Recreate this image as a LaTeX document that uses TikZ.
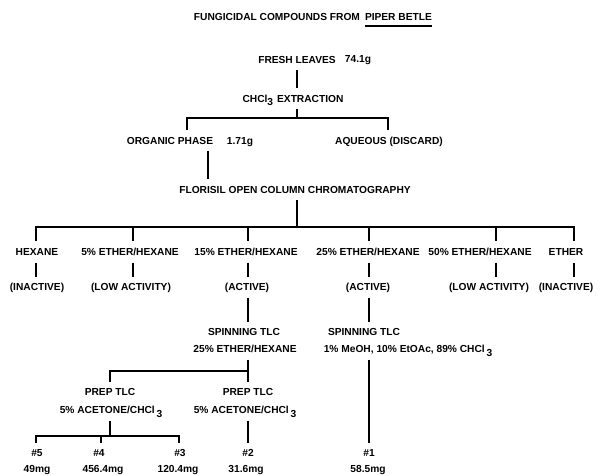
\documentclass[tikz,border=0pt]{standalone}
\usepackage{fontspec}
\setmainfont{Liberation Sans}
\begin{document}
\begin{tikzpicture}[x=1pt,y=-1pt,
  lbl/.style={font=\fontsize{10.2}{12}\selectfont\bfseries, inner sep=0pt, outer xsep=0pt, outer ysep=7pt, text height=7pt, text depth=0pt},
  ln/.style={line width=2.6pt, line join=miter}]
\useasboundingbox[fill=white] (0,0) rectangle (603,476);
% title
\node[lbl, anchor=east] (t1) at (360,17) {FUNGICIDAL COMPOUNDS FROM};
\node[lbl, anchor=west] (t2) at (365,17) {PIPER BETLE};
\draw[line width=1.8pt] ([yshift=-5.5pt]t2.base west) -- ([yshift=-5.5pt]t2.base east);
% top part
\node[lbl] (fresh) at (297,60) {FRESH LEAVES};
\node[lbl] (w1) at (358,59) {74.1g};
\node[lbl] (extr) at (293,99) {CHCl\raisebox{-3.5pt}{3}\hspace{4pt}EXTRACTION};
\coordinate (j1) at (297,118);
\coordinate (oL) at (187,118);
\coordinate (aR) at (388,118);
\node[lbl] (org) at (170,141) {ORGANIC PHASE};
\node[lbl] (w2) at (240,141) {1.71g};
\node[lbl] (aq) at (389,141) {AQUEOUS (DISCARD)};
\coordinate (oD) at (208,150);
\node[lbl] (flor) at (295,190) {FLORISIL OPEN COLUMN CHROMATOGRAPHY};
\coordinate (j2) at (297,227);
\draw[ln] (fresh.south) -- (fresh.south |- extr.north);
\draw[ln] (extr.south -| j1) -- (j1);
\draw[ln] (oL |- org.north) -- (oL) -- (aR) -- (aR |- aq.north);
\draw[ln] (org.south -| oD) -- (oD |- flor.north);
\draw[ln] (flor.south -| j2) -- (j2);
% fractions
\coordinate (b1) at (36,227);
\coordinate (b2) at (133,227);
\coordinate (b3) at (248,227);
\coordinate (b4) at (369,227);
\coordinate (b5) at (496,227);
\coordinate (b6) at (574,227);
\node[lbl] (hex) at (37,252) {HEXANE};
\node[lbl] (e5) at (130,252) {5\% ETHER/HEXANE};
\node[lbl] (e15) at (246,252) {15\% ETHER/HEXANE};
\node[lbl] (e25) at (368,252) {25\% ETHER/HEXANE};
\node[lbl] (e50) at (480,252) {50\% ETHER/HEXANE};
\node[lbl] (eth) at (566,252) {ETHER};
\node[lbl] (r1) at (37,287) {(INACTIVE)};
\node[lbl] (r2) at (131,287) {(LOW ACTIVITY)};
\node[lbl] (r3) at (247,287) {(ACTIVE)};
\node[lbl] (r4) at (368,287) {(ACTIVE)};
\node[lbl] (r5) at (489,287) {(LOW ACTIVITY)};
\node[lbl] (r6) at (566,287) {(INACTIVE)};
\draw[ln] (b1 |- hex.north) -- (b1) -- (b6) -- (b6 |- eth.north);
\draw[ln] (b2) -- (b2 |- e5.north);
\draw[ln] (b3) -- (b3 |- e15.north);
\draw[ln] (b4) -- (b4 |- e25.north);
\draw[ln] (b5) -- (b5 |- e50.north);
\draw[ln] (hex.south -| b1) -- (b1 |- r1.north);
\draw[ln] (e5.south -| b2) -- (b2 |- r2.north);
\draw[ln] (e15.south -| b3) -- (b3 |- r3.north);
\draw[ln] (e25.south -| b4) -- (b4 |- r4.north);
\draw[ln] (e50.south -| b5) -- (b5 |- r5.north);
\draw[ln] (eth.south -| b6) -- (b6 |- r6.north);
% 15% branch
\node[lbl] (sp1) at (244,332) {SPINNING TLC};
\node[lbl] (sp1b) at (245,349) {25\% ETHER/HEXANE};
\draw[ln] (r3.south -| b3) -- (b3 |- sp1.north);
\coordinate (pL) at (110,371);
\coordinate (pR) at (248,371);
\node[lbl] (pt1) at (110,392) {PREP TLC};
\node[lbl] (pt2) at (248,392) {PREP TLC};
\node[lbl] (ac1) at (111,410) {5\% ACETONE/CHCl\,\raisebox{-3.5pt}{3}};
\node[lbl] (ac2) at (245,410) {5\% ACETONE/CHCl\,\raisebox{-3.5pt}{3}};
\draw[ln] (sp1b.south -| pR) -- (pR |- pt2.north);
\draw[ln] (pL |- pt1.north) -- (pL) -- (pR);
\coordinate (q1) at (110,436);
\coordinate (q5) at (36,436);
\coordinate (q4) at (101,436);
\coordinate (q3) at (179,436);
\node[lbl] (n5) at (37,453) {\#5};
\node[lbl] (n4) at (99,453) {\#4};
\node[lbl] (n3) at (180,453) {\#3};
\node[lbl] (n2) at (248,453) {\#2};
\node[lbl] (n1) at (369,453) {\#1};
\node[lbl] (m5) at (37,469) {49mg};
\node[lbl] (m4) at (103,469) {456.4mg};
\node[lbl] (m3) at (178,469) {120.4mg};
\node[lbl] (m2) at (246,469) {31.6mg};
\node[lbl] (m1) at (368,469) {58.5mg};
\draw[ln] (ac1.south -| q1) -- (q1);
\draw[ln] (q5 |- n5.north) -- (q5) -- (q3) -- (q3 |- n3.north);
\draw[ln] (q4) -- (q4 |- n4.north);
\draw[ln] (ac2.south -| pR) -- (pR |- n2.north);
% 25% branch
\node[lbl] (sp2) at (364,332) {SPINNING TLC};
\node[lbl] (sp2b) at (408,349) {1\% MeOH, 10\% EtOAc, 89\% CHCl\,\raisebox{-3.5pt}{3}};
\draw[ln] (r4.south -| b4) -- (b4 |- sp2.north);
\draw[ln] (sp2b.south -| b4) -- (b4 |- n1.north);
\end{tikzpicture}
\end{document}
